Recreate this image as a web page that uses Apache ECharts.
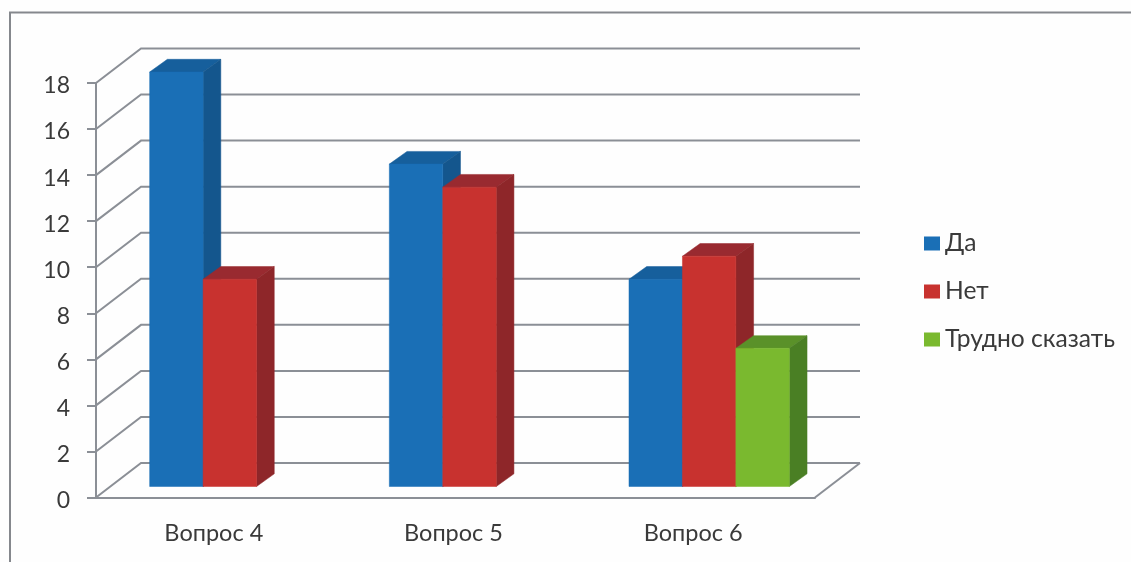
<!DOCTYPE html>
<html>
<head>
<meta charset="utf-8">
<style>html,body{margin:0;padding:0;background:#fff}#chart{width:1131px;height:562px}</style>
<script src="https://cdn.jsdelivr.net/npm/echarts@6/dist/echarts.min.js"></script>
</head>
<body>
<div id="chart"></div>
<script>
const categories = ['Вопрос 4', 'Вопрос 5', 'Вопрос 6'];
const yesValues = [18, 14, 9];
const noValues = [9, 13, 10];
const hardValues = [null, null, 6];
const gridValues = [0, 2, 4, 6, 8, 10, 12, 14, 16, 18];

const FONT = 'Lato, "Open Sans", "Noto Sans", sans-serif';
const LINE = '#8b8f96';
const TEXT = '#3a3a3a';

// Pseudo-3D offsets, in pixels: wall depth, bar depth, bar plane shift
const WALL_DX = 45, WALL_DY = 34.5;
const BAR_DX = 17.7, BAR_DY = 12.7;
const PLANE_DX = 14, PLANE_DY = 11;
const SLOT_RATIO = 0.223;

// Back wall grid line plus its slanted run on the side wall
function renderWall(params, api) {
  const v = api.value(0);
  const sys = params.coordSys;
  const y = api.coord([0, v])[1];
  const x0 = sys.x, x1 = sys.x + sys.width;
  const children = [{
    type: 'polyline',
    shape: { points: [[x0, y], [x0 + WALL_DX, y - WALL_DY], [x1 + WALL_DX, y - WALL_DY]] },
    style: { fill: 'none', stroke: LINE, lineWidth: 2 }
  }];
  if (v === 0) {
    children.push({
      type: 'line',
      shape: { x1: x1, y1: y, x2: x1 + WALL_DX, y2: y - WALL_DY },
      style: { stroke: LINE, lineWidth: 2 }
    });
  }
  return { type: 'group', children: children };
}

// One box: front face, top face and right face
function makeBoxRenderer(slot, front, top, side) {
  return function (params, api) {
    const value = api.value(1);
    if (value === null || isNaN(value)) return null;
    const cat = api.value(0);
    const w = api.size([1, 0])[0] * SLOT_RATIO;
    const pTop = api.coord([cat, value]);
    const pBase = api.coord([cat, 0]);
    const l = pBase[0] - 1.5 * w + slot * w + PLANE_DX;
    const r = l + w;
    const t = pTop[1] - PLANE_DY;
    const b = pBase[1] - PLANE_DY;
    const poly = (points, color) => ({
      type: 'polygon',
      shape: { points: points },
      style: { fill: color, stroke: color, lineWidth: 0.5 }
    });
    return {
      type: 'group',
      children: [
        poly([[l, t], [l + BAR_DX, t - BAR_DY], [r + BAR_DX, t - BAR_DY], [r, t]], top),
        poly([[r, t], [r + BAR_DX, t - BAR_DY], [r + BAR_DX, b - BAR_DY], [r, b]], side),
        poly([[l, t], [r, t], [r, b], [l, b]], front)
      ]
    };
  };
}

function boxSeries(name, values, slot, front, top, side) {
  return {
    name: name,
    type: 'custom',
    z: 3 + slot,
    clip: false,
    itemStyle: { color: front },
    renderItem: makeBoxRenderer(slot, front, top, side),
    encode: { x: 0, y: 1 },
    data: values.map((v, i) => [i, v])
  };
}

const chart = echarts.init(document.getElementById('chart'));
chart.setOption({
  animation: false,
  backgroundColor: '#fefefe',
  grid: { left: 96, right: 316, top: 83, bottom: 64.5, containLabel: false },
  graphic: [{
    type: 'polyline',
    silent: true,
    shape: { points: [[10, 562], [10, 12.5], [1131, 12.5]] },
    style: { fill: 'none', stroke: '#85888d', lineWidth: 2 }
  }],
  legend: {
    orient: 'vertical',
    left: 919,
    top: 226,
    icon: 'rect',
    itemWidth: 16,
    itemHeight: 14,
    itemGap: 23,
    selectedMode: false,
    data: ['Да', 'Нет', 'Трудно сказать'],
    textStyle: { fontFamily: FONT, fontSize: 24.6, lineHeight: 24.5, color: TEXT }
  },
  xAxis: {
    type: 'category',
    data: categories,
    boundaryGap: true,
    axisLine: { lineStyle: { color: LINE, width: 2 } },
    axisTick: { length: 9, lineStyle: { color: LINE, width: 2 } },
    axisLabel: { fontFamily: FONT, fontSize: 23.5, color: TEXT, margin: 24, padding: [0, 4, 0, 0] },
    splitLine: { show: false }
  },
  yAxis: {
    type: 'value',
    min: 0,
    max: 18,
    interval: 2,
    axisLine: { show: true, lineStyle: { color: LINE, width: 2 } },
    axisTick: { show: true, length: 9, lineStyle: { color: LINE, width: 2 } },
    axisLabel: { fontFamily: FONT, fontSize: 23, color: TEXT, margin: 26, verticalAlign: 'top', lineHeight: 6 },
    splitLine: { show: false }
  },
  series: [
    {
      name: 'wall',
      type: 'custom',
      z: 1,
      clip: false,
      silent: true,
      renderItem: renderWall,
      encode: { y: 0 },
      data: gridValues.map(v => [v])
    },
    boxSeries('Да', yesValues, 0, '#1a6fb6', '#165f9c', '#14568d'),
    boxSeries('Нет', noValues, 1, '#c8322f', '#992a30', '#8e2629'),
    boxSeries('Трудно сказать', hardValues, 2, '#7ab92f', '#5a9129', '#4a7f24')
  ]
});
</script>
</body>
</html>
